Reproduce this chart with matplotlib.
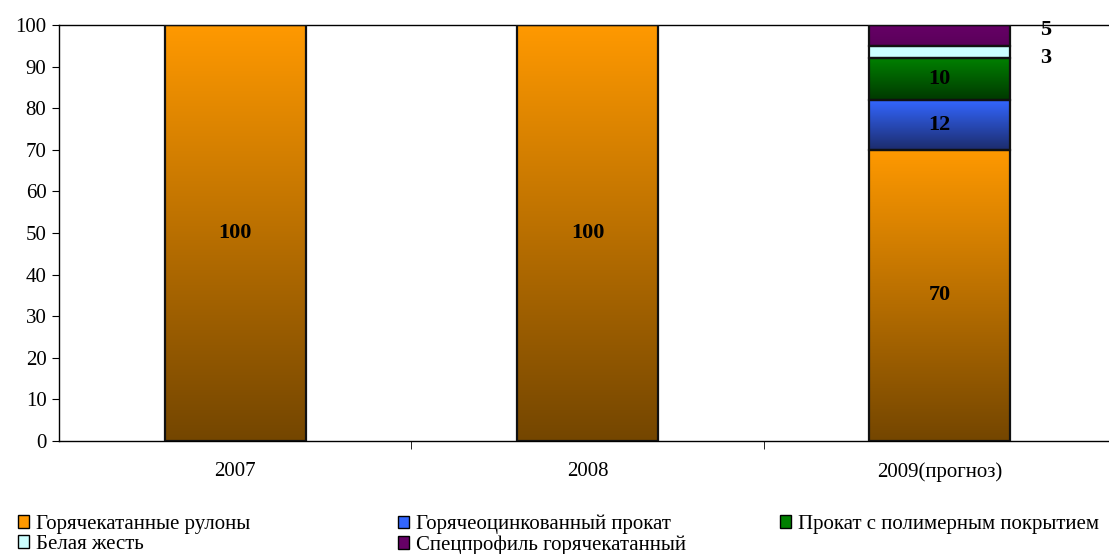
import numpy as np
import matplotlib
matplotlib.use("Agg")
import matplotlib.pyplot as plt
from matplotlib.colors import LinearSegmentedColormap
from matplotlib.patches import Rectangle, Patch

plt.rcParams['font.family'] = ['Liberation Serif', 'DejaVu Serif']
plt.rcParams['font.size'] = 15

years = ["2007", "2008", "2009(прогноз)"]
series = ["Горячекатанные рулоны", "Горячеоцинкованный прокат",
          "Прокат с полимерным покрытием", "Белая жесть",
          "Спецпрофиль горячекатанный"]
hot_rolls = [100, 100, 70]
galvanized = [0, 0, 12]
polymer = [0, 0, 10]
tinplate = [0, 0, 3]
special = [0, 0, 5]
values = [hot_rolls, galvanized, polymer, tinplate, special]

# top colour, bottom colour of each gradient
grads = [("#ff9900", "#744600"),
         ("#3366ff", "#1c2c6c"),
         ("#008000", "#003800"),
         ("#ccffff", "#ccffff"),
         ("#660066", "#5a005a")]

fig = plt.figure(figsize=(11.09, 5.54), dpi=100)
ax = fig.add_axes([59 / 1109, 113 / 554, 1057 / 1109, 416 / 554])

width = 0.4
grad = np.linspace(0, 1, 256).reshape(-1, 1)
bottoms = np.zeros(len(years))
for vals, (ctop, cbot) in zip(values, grads):
    cmap = LinearSegmentedColormap.from_list("g", [cbot, ctop])
    for i, v in enumerate(vals):
        if v == 0:
            continue
        x0, y0 = i - width / 2, bottoms[i]
        ax.imshow(grad, extent=[x0, x0 + width, y0, y0 + v], origin="lower",
                  aspect="auto", cmap=cmap, zorder=2, interpolation="bilinear")
        ax.add_patch(Rectangle((x0, y0), width, v, fill=False,
                               edgecolor="#111111", lw=1.6, zorder=3))
    bottoms += np.array(vals)

# value labels
bottoms = np.zeros(len(years))
for k, vals in enumerate(values):
    for i, v in enumerate(vals):
        if v == 0:
            continue
        yc = bottoms[i] + v / 2
        if v < 6:
            dy = 1.3 if k == 4 else -1.4
            ax.text(i + 0.3, yc + dy, str(v), ha="center", va="center",
                    fontweight="bold", fontsize=16, zorder=4)
        else:
            ax.text(i, yc, str(v), ha="center", va="center",
                    fontweight="bold", fontsize=16, zorder=4)
    bottoms += np.array(vals)

ax.set_xlim(-0.5, 2.5)
ax.set_ylim(0, 100)
ax.set_yticks(range(0, 101, 10))
ax.set_xticks(range(len(years)))
ax.set_xticklabels(years)
ax.set_xticks([0.5, 1.5], minor=True)
ax.tick_params(axis="x", which="major", length=0, pad=15)
ax.tick_params(axis="x", which="minor", length=6, direction="out")
ax.tick_params(axis="y", length=5, direction="out", pad=4)
ax.spines["right"].set_visible(False)
for s in ["left", "bottom", "top"]:
    ax.spines[s].set_linewidth(1.0)

handles = [Patch(facecolor=c[0], edgecolor="black", lw=1) for c in grads]
cols = [([0, 3], 18), ([1, 4], 398), ([2], 780)]
for idx, xpix in cols:
    fig.legend([handles[j] for j in idx], [series[j] for j in idx],
               loc="upper left", bbox_to_anchor=(xpix / 1109, 1 - 515 / 554),
               frameon=False, handlelength=0.55, handleheight=0.55,
               handletextpad=0.3, labelspacing=0.05, borderpad=0,
               borderaxespad=0, fontsize=15)

fig.savefig("out.png", dpi=100)
